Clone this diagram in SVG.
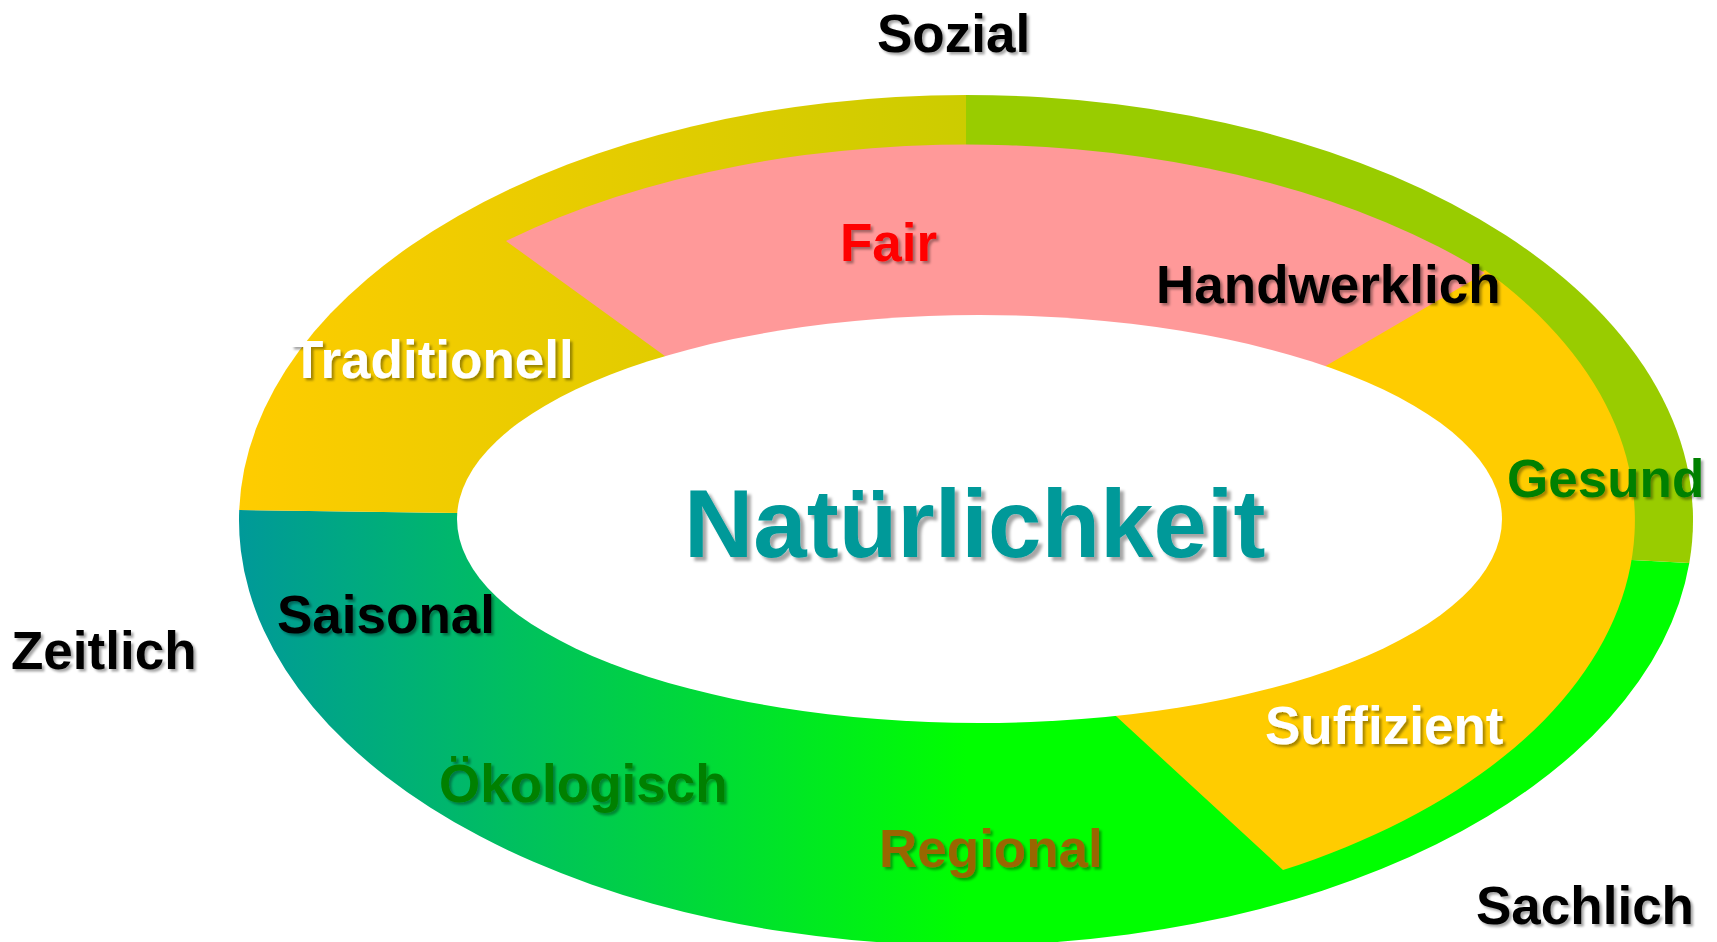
<svg xmlns="http://www.w3.org/2000/svg" width="1717" height="942" viewBox="0 0 1717 942">
  <defs>
    <linearGradient id="gBottom" gradientUnits="userSpaceOnUse" x1="239" y1="0" x2="966" y2="0">
      <stop offset="0" stop-color="#009999"/>
      <stop offset="1" stop-color="#00FF00"/>
    </linearGradient>
    <linearGradient id="gTopLeft" gradientUnits="userSpaceOnUse" x1="239" y1="0" x2="1693" y2="0">
      <stop offset="0" stop-color="#FFCC00"/>
      <stop offset="1" stop-color="#99CC00"/>
    </linearGradient>
    <filter id="shadow" x="-10%" y="-30%" width="130%" height="170%">
      <feDropShadow dx="2.5" dy="2.5" stdDeviation="1.2" flood-color="#000000" flood-opacity="0.35"/>
    </filter>
    <filter id="shadowBig" x="-10%" y="-30%" width="130%" height="170%">
      <feDropShadow dx="4" dy="4" stdDeviation="1.8" flood-color="#000000" flood-opacity="0.35"/>
    </filter>
  </defs>
  <style>
    text { font-family: "Liberation Sans", Arial, sans-serif; font-weight: bold; font-size: 53px; }
    .lbl { filter: url(#shadow); }
    .title { font-size: 96px; fill: #009999; filter: url(#shadowBig); }
    .black { fill: #000000; }
    .white { fill: #FFFFFF; }
    .dgreen { fill: #008000; }
    .red { fill: #FF0000; }
    .brown { fill: #996600; }
  </style>

  <g id="ring">
    <path id="band-bottom" fill="url(#gBottom)" d="M239.2,510 A727,425 0 0 0 1689.3,563 L1632,560 L966,519 L457,513 Z"/>
    <path id="band-top-left" fill="url(#gTopLeft)" d="M239.2,510 A727,425 0 0 1 966,95 L966,519 L457,513 Z"/>
    <path id="band-top-right" fill="#99CC00" d="M966,95 A727,425 0 0 1 1689.3,563 L1632,560 L966,519 Z"/>
    <path id="segment-yellow" fill="#FFCC00" d="M1485,270 A669,397 0 0 1 1283,870 L1117,717 L1040,645 L966,519 L1252,409 Z"/>
    <path id="segment-pink" fill="#FF9999" d="M506,241 A688,375 0 0 1 1485,273 L1252,409 L966,519 L745,414 Z"/>
    <ellipse id="center" cx="979.5" cy="519" rx="522.5" ry="204" fill="#FFFFFF"/>
  </g>

  <g id="title"><text class="title" x="684" y="557">Natürlichkeit</text></g>

  <g id="dimensions">
    <g id="dim-sozial"><text class="lbl black" x="877" y="52">Sozial</text></g>
    <g id="dim-zeitlich"><text class="lbl black" x="11" y="669">Zeitlich</text></g>
    <g id="dim-sachlich"><text class="lbl black" x="1476" y="924">Sachlich</text></g>
  </g>

  <g id="labels">
    <g id="lbl-fair"><text class="lbl red" x="840" y="261">Fair</text></g>
    <g id="lbl-handwerklich"><text class="lbl black" x="1156" y="303">Handwerklich</text></g>
    <g id="lbl-traditionell"><text class="lbl white" x="291" y="378">Traditionell</text></g>
    <g id="lbl-gesund"><text class="lbl dgreen" x="1507" y="497">Gesund</text></g>
    <g id="lbl-saisonal"><text class="lbl black" x="277" y="633">Saisonal</text></g>
    <g id="lbl-suffizient"><text class="lbl white" x="1265" y="744">Suffizient</text></g>
    <g id="lbl-oekologisch"><text class="lbl dgreen" x="439" y="802">Ökologisch</text></g>
    <g id="lbl-regional"><text class="lbl brown" x="879" y="867">Regional</text></g>
  </g>
</svg>
